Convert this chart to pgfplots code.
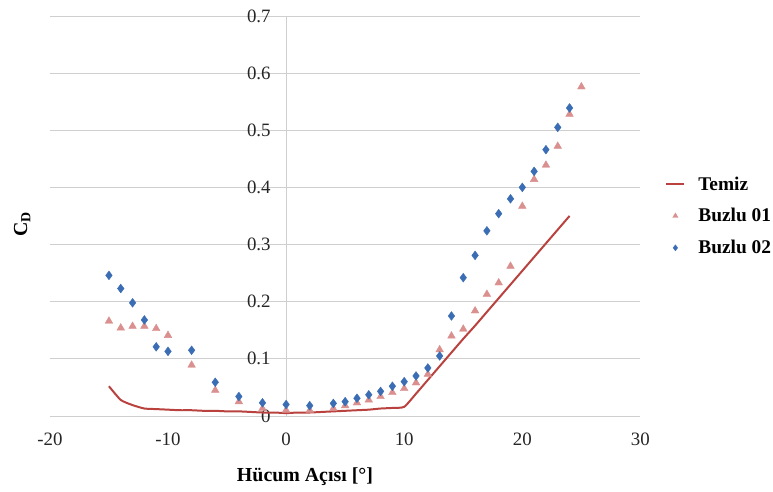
\documentclass[border=0pt]{standalone}
\usepackage{pgfplots}
\pgfplotsset{compat=1.18}
\usepackage{pgfplotstable}
\usepackage{fontspec}
\setmainfont{Liberation Serif}

\definecolor{temiz}{HTML}{B9423F}
\definecolor{buzluA}{HTML}{D9908E}
\definecolor{buzluB}{HTML}{3A6DB3}
\definecolor{gridgray}{HTML}{CFCFCF}

\pgfplotstableread{
x y
-15 0.052
-14 0.028
-13 0.019
-12 0.013
-11 0.012
-10 0.011
-9 0.010
-8 0.010
-7 0.009
-6 0.009
-5 0.008
-4 0.008
-3 0.007
-2 0.006
-1 0.006
0 0.005
1 0.006
2 0.006
3 0.007
4 0.008
5 0.009
6 0.010
7 0.011
8 0.013
9 0.014
10 0.016
11 0.039
12 0.063
13 0.087
14 0.111
15 0.135
16 0.158
17 0.182
18 0.206
19 0.230
20 0.254
21 0.278
22 0.302
23 0.326
24 0.350
}\temiz

\pgfplotstableread{
x y
-15 0.166
-14 0.154
-13 0.157
-12 0.157
-11 0.153
-10 0.141
-8 0.089
-6 0.045
-4 0.025
-2 0.013
0 0.010
2 0.010
4 0.013
5 0.018
6 0.023
7 0.028
8 0.034
9 0.041
10 0.048
11 0.058
12 0.073
13 0.116
14 0.140
15 0.152
16 0.184
17 0.213
18 0.233
19 0.262
20 0.367
21 0.414
22 0.439
23 0.472
24 0.528
25 0.576
}\buzluA

\pgfplotstableread{
x y
-15 0.246
-14 0.223
-13 0.198
-12 0.168
-11 0.121
-10 0.113
-8 0.115
-6 0.059
-4 0.034
-2 0.023
0 0.020
2 0.018
4 0.022
5 0.025
6 0.031
7 0.037
8 0.043
9 0.052
10 0.060
11 0.070
12 0.084
13 0.105
14 0.175
15 0.242
16 0.281
17 0.324
18 0.354
19 0.380
20 0.400
21 0.428
22 0.466
23 0.505
24 0.539
}\buzluB

\begin{document}
\begin{tikzpicture}
\begin{axis}[
  scale only axis,
  width=592bp, height=401bp,
  xmin=-20, xmax=30, ymin=0, ymax=0.7,
  axis y line=center, axis x line=bottom,
  axis line style={-, draw=gridgray, line width=0.8bp},
  hide obscured x ticks=false, hide obscured y ticks=false,
  xtick={-20,-10,...,30},
  ytick={0,0.1,...,0.7},
  yticklabels={0,0.1,0.2,0.3,0.4,0.5,0.6,0.7},
  major tick length=0pt,
  ymajorgrids,
  grid style={draw=gridgray, line width=0.8bp},
  /pgf/number format/assume math mode=true,
  tick label style={font=\fontsize{19}{22}\selectfont, text=black!85},
  xticklabel style={yshift=-14bp},
  yticklabel style={xshift=-12bp},
  xlabel={\textbf{Hücum Açısı [°]}},
  ylabel={\textbf{C\textsubscript{D}}},
  xlabel style={at={(axis description cs:0.432,-0.152)}, anchor=center, font=\fontsize{20}{24}\selectfont},
  ylabel style={at={(axis description cs:-0.047,0.48)}, anchor=center, rotate=90, font=\fontsize{20}{24}\selectfont},
  clip=false,
  legend style={draw=none, fill=none, at={(axis description cs:1.042,0.5)}, anchor=west,
    font=\bfseries\fontsize{19.5}{22}\selectfont, row sep=13bp, inner sep=0pt,
    /tikz/every odd column/.append style={column sep=11bp}},
  legend cell align=left,
]
\addplot[temiz, line width=2bp, smooth, tension=0.35, no markers,
  legend image code/.code={\draw[temiz, line width=2bp] (0bp,0bp) -- (18bp,0bp);}]
  table[x=x, y=y] {\temiz};
\addlegendentry{Temiz}
\addplot[only marks, mark=triangle*, mark size=4.4bp, color=buzluA,
  legend image code/.code={\draw[buzluA, fill=buzluA] plot[mark=triangle*, mark size=3bp] coordinates {(9bp,0bp)};}]
  table[x=x, y=y] {\buzluA};
\addlegendentry{Buzlu 01}
\addplot[only marks, mark=diamond*, mark size=4.4bp, color=buzluB,
  legend image code/.code={\draw[buzluB, fill=buzluB] plot[mark=diamond*, mark size=3bp] coordinates {(9bp,0bp)};}]
  table[x=x, y=y] {\buzluB};
\addlegendentry{Buzlu 02}
\path (axis description cs:-0.0845,-0.1895) rectangle (axis description cs:1.2213,1.0399);
\end{axis}
\end{tikzpicture}
\end{document}
